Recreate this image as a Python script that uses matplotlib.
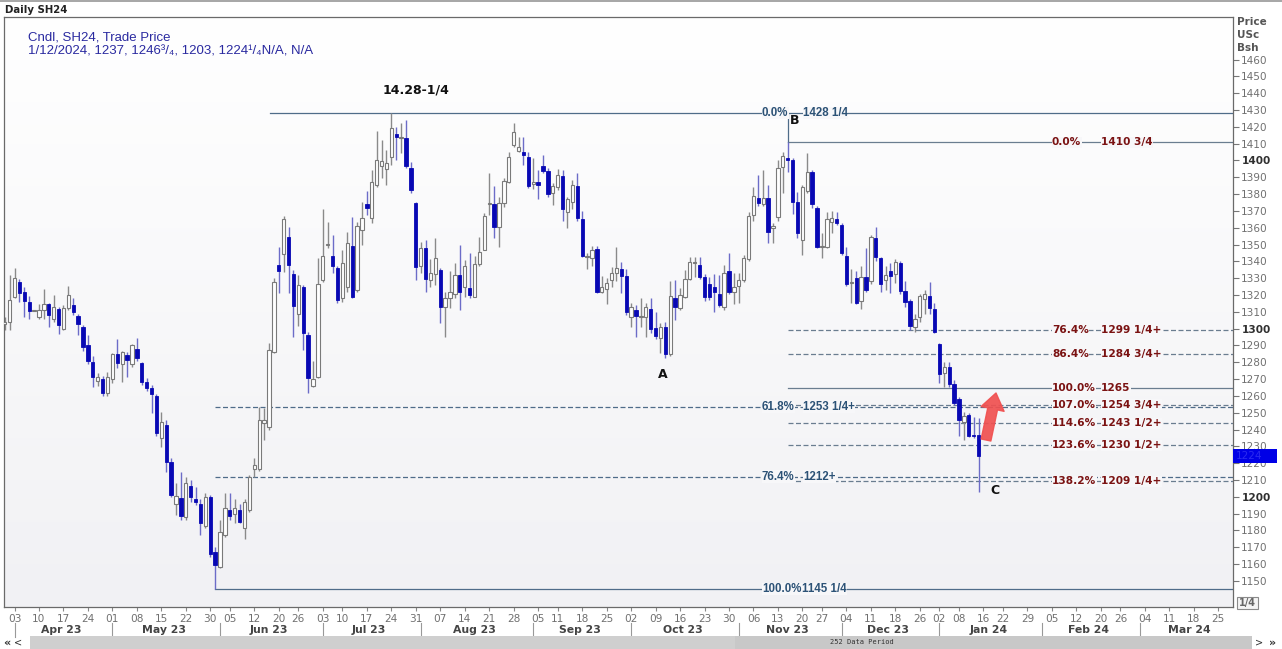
import numpy as np
import pandas as pd
import matplotlib
matplotlib.use("Agg")
import matplotlib.pyplot as plt
from matplotlib.patches import Rectangle
import matplotlib.transforms as mtrans

# ---------------- data ----------------
holidays = ['2023-05-29', '2023-06-19', '2023-07-04', '2023-09-04', '2023-11-23',
            '2023-12-25', '2024-01-01', '2024-01-15', '2024-02-19']

opens = [1303, 1304, 1319, 1328, 1322, 1316, 1310.5, 1307, 1311, 1314.5, 1306, 1311.7, 1300, 1312.5, 1314,
         1307.7, 1301, 1290, 1280, 1269, 1270, 1261.5, 1270, 1284.7, 1279, 1284.3, 1279, 1288, 1279.4, 1268,
         1265, 1260, 1235, 1242.7, 1221, 1195.8, 1199.5, 1188, 1206.5, 1198.7, 1196, 1182.7, 1200, 1167.4, 1158,
         1177.3, 1192, 1189.8, 1192, 1181.3, 1192, 1216.4, 1216.4, 1243.7, 1241.3, 1286.3, 1337.9, 1344.4, 1354.7,
         1332.5, 1309, 1325, 1296.2, 1266, 1271, 1329, 1350, 1343, 1336, 1318, 1324.6, 1349.4, 1323, 1358.7,
         1374.2, 1365.6, 1385.5, 1397, 1394.8, 1402.3, 1416, 1413.6, 1413.6, 1395.4, 1375, 1337, 1347.8, 1329,
         1332.5, 1335, 1313, 1318, 1320.7, 1332, 1325, 1324, 1319, 1338.5, 1347, 1374, 1374, 1360.7, 1375,
         1387.4, 1409.2, 1405.8, 1405.2, 1402.3, 1386, 1387.4, 1396.7, 1393.9, 1380.9, 1384, 1390.8, 1369.6,
         1375.5, 1384.8, 1365, 1342.8, 1341.8, 1347.2, 1322, 1323.4, 1329, 1333, 1335.3, 1331.3, 1307, 1311,
         1307, 1306.7, 1311.5, 1300.2, 1294.2, 1300.8, 1285, 1318, 1312, 1318.6, 1329.3, 1338.8, 1337.8, 1331,
         1326.5, 1325, 1320.6, 1313, 1334, 1322, 1325.4, 1329, 1341.2, 1367.6, 1377.5, 1374.1, 1377.5, 1360,
         1366.6, 1396, 1401.3, 1400, 1375.5, 1353, 1382, 1393.3, 1372, 1348.7, 1348.7, 1363.6, 1365, 1361.6,
         1343.2, 1327, 1330, 1316.6, 1331, 1328.5, 1353.7, 1341.8, 1329, 1334.5, 1332.5, 1339.2, 1322.6, 1316.6,
         1300.8, 1306.7, 1317.4, 1319.4, 1311.5, 1290.9, 1273.4, 1277.4, 1267, 1258, 1244.7, 1248.7, 1236.5, 1237]
highs = [1307, 1332, 1336, 1329.5, 1325, 1319.5, 1310.5, 1314.5, 1323.5, 1315, 1320, 1313, 1314, 1325.5, 1318.5,
         1309, 1302, 1296, 1283.5, 1273.5, 1272, 1274.5, 1285.3, 1294, 1287, 1286.3, 1290.7, 1294.6, 1280.4,
         1270.5, 1266.5, 1261, 1250.7, 1245.7, 1223, 1208, 1215, 1212, 1210, 1206, 1199, 1202.5, 1201, 1170.4,
         1186, 1202, 1202, 1199, 1196, 1199, 1213, 1223, 1253.6, 1252.6, 1291.3, 1330, 1348.8, 1367, 1360.6, 1335,
         1332, 1326, 1298.2, 1281, 1341.8, 1371, 1363.6, 1355.7, 1337, 1346.8, 1357.7, 1366.6, 1363.7, 1375.6,
         1382, 1394.4, 1417.8, 1412, 1406, 1428.25, 1420, 1422.5, 1424, 1399.3, 1375.6, 1351.8, 1352.8, 1341.3,
         1353.8, 1336, 1322, 1334.5, 1338.9, 1349.8, 1341, 1344.8, 1343, 1354.7, 1369, 1392.8, 1385, 1378.5,
         1389.4, 1405.2, 1422, 1414, 1414, 1405.2, 1401.3, 1394.3, 1403.2, 1395.3, 1386.4, 1394.7, 1394.3, 1378,
         1388.4, 1392.3, 1370, 1345.2, 1349, 1349, 1331.3, 1330, 1336.5, 1348.3, 1339.8, 1335.3, 1315, 1314,
         1318, 1315, 1318, 1310, 1303.2, 1304.2, 1328.5, 1329, 1324, 1335, 1342.8, 1342.4, 1342.8, 1332.5, 1331,
         1332.5, 1332, 1337.8, 1344.8, 1333.3, 1333, 1343.8, 1369.5, 1384.4, 1391.4, 1394.3, 1385.4, 1363, 1400,
         1405.2, 1410.75, 1401.3, 1381.4, 1385.4, 1404.2, 1394.3, 1373, 1356.7, 1369.5, 1370, 1369.5, 1362.6,
         1348.7, 1335.3, 1334, 1337, 1347.8, 1355.7, 1360.2, 1342.4, 1337, 1339, 1341.2, 1340.4, 1328.5, 1317.4,
         1308.7, 1320.6, 1323, 1327.9, 1315, 1291.3, 1280.4, 1280, 1269.5, 1259.6, 1250.6, 1249.7, 1247.7, 1246.75]
lows = [1299, 1299, 1318, 1316, 1307, 1306, 1310.5, 1305.7, 1306, 1301, 1304, 1297, 1299, 1311, 1308, 1296,
        1287, 1279, 1265.5, 1266, 1260, 1260, 1267.5, 1276.4, 1268.5, 1271.5, 1277.4, 1280.8, 1266.5, 1263,
        1249.7, 1236, 1229.8, 1215, 1200, 1189, 1186, 1186, 1197, 1195, 1177.3, 1181.3, 1164.4, 1145.25, 1157.5,
        1176, 1186.3, 1184.7, 1184.3, 1174.8, 1191, 1212, 1215.6, 1233.8, 1239.8, 1285.3, 1321, 1333.9, 1321,
        1295.2, 1301.6, 1287.3, 1262, 1265.5, 1270.5, 1328, 1347.8, 1333, 1315, 1316, 1322, 1318, 1322, 1349.8,
        1367.6, 1363, 1384, 1389.4, 1385.5, 1397.4, 1400.3, 1404.3, 1395.4, 1380.5, 1329, 1333, 1322, 1325,
        1326, 1303.2, 1295.3, 1312, 1318, 1311, 1319, 1318, 1318.7, 1337, 1346.8, 1367.6, 1353.8, 1348.8,
        1372.5, 1386.4, 1408.2, 1405.2, 1397.3, 1383.4, 1382.8, 1377, 1392.3, 1378, 1373.5, 1382.4, 1364.2,
        1359.6, 1371, 1364.2, 1342.8, 1335.3, 1337, 1321.4, 1321.4, 1314.7, 1325, 1328.5, 1321.4, 1308, 1301.2,
        1295.2, 1301.2, 1295.2, 1297.6, 1293.7, 1285.3, 1282.4, 1283.7, 1305.2, 1311, 1318, 1328.9, 1331,
        1329.3, 1316.6, 1317, 1310, 1313, 1311, 1320.6, 1314.7, 1315, 1328, 1340.4, 1364.2, 1373, 1373, 1350.7,
        1350.7, 1364.2, 1380.5, 1393.3, 1368.2, 1353.7, 1343.8, 1380.5, 1372, 1347.7, 1341.8, 1347.7, 1356.7,
        1361.6, 1343.8, 1325.4, 1315, 1314.7, 1311.5, 1322, 1326.5, 1340.4, 1322, 1323, 1321.4, 1327.3, 1320.6,
        1312.7, 1299.2, 1298.2, 1304.2, 1309, 1308.7, 1297.2, 1267.5, 1265.5, 1265.5, 1254.6, 1236.2, 1233.8,
        1235.4, 1234.8, 1203]
closes = [1304, 1317, 1330, 1321, 1316.5, 1310.5, 1310.5, 1311, 1314.5, 1308, 1313, 1302.2, 1312.5, 1320, 1310,
          1302.6, 1289, 1281, 1271, 1271, 1261.5, 1271, 1284.7, 1279.4, 1286, 1281.4, 1290, 1282.4, 1268, 1265,
          1261, 1238, 1244.7, 1221, 1201, 1200.5, 1188.6, 1208, 1200, 1197, 1184.7, 1200, 1166, 1159.5, 1179.3,
          1193.2, 1188.6, 1193.2, 1185.3, 1197, 1212, 1219, 1245.7, 1245.7, 1287.3, 1328, 1334, 1365.2, 1337.9,
          1313.5, 1326, 1297.2, 1270.5, 1270, 1326.6, 1343.2, 1350.5, 1337, 1317, 1339, 1350.8, 1319, 1361,
          1365.6, 1371.6, 1387.4, 1400.3, 1399.7, 1398.7, 1419.2, 1414, 1413.8, 1396.8, 1382.5, 1336.5, 1347.8,
          1329.4, 1333.3, 1342, 1312.7, 1318, 1321.5, 1332, 1321.5, 1337, 1320, 1338.5, 1345.8, 1367, 1374.5,
          1360.3, 1374.6, 1388, 1402.3, 1417.1, 1407.8, 1403.2, 1384.8, 1387.4, 1385.4, 1393.9, 1380.1, 1384.8,
          1391.4, 1371, 1376.9, 1385.4, 1365.6, 1343.2, 1343, 1346.8, 1322, 1324.6, 1327.3, 1333, 1336, 1331.3,
          1310.1, 1313, 1307.5, 1307.3, 1312.7, 1299.6, 1295.6, 1301.2, 1285, 1319.4, 1312.7, 1320, 1329.3,
          1339.8, 1339.8, 1331, 1318.6, 1318.6, 1322, 1314, 1333.3, 1322, 1325, 1329, 1341.8, 1367, 1379, 1374.5,
          1377.5, 1357.7, 1361, 1395.3, 1402.6, 1400, 1375.5, 1356.7, 1384, 1393.3, 1374, 1348.7, 1349, 1365,
          1365.6, 1362.6, 1345.2, 1326.5, 1328, 1315.4, 1330.5, 1323, 1354.3, 1342.4, 1326.5, 1332, 1331.3,
          1339.8, 1322.6, 1316, 1301.6, 1306, 1319.4, 1320.6, 1312, 1298.2, 1273, 1277.4, 1267, 1256, 1245.7,
          1248, 1236.2, 1236, 1224.25]

# Fibonacci retracement (Jun low to Jul high) and extension (A-B)
left_fib_pct = ['0.0%', '61.8%', '76.4%', '100.0%']
left_fib_val = [1428.25, 1253.36, 1212.04, 1145.25]
left_fib_txt = ['1428 1/4', '1253 1/4+', '1212+', '1145 1/4']
right_fib_pct = ['0.0%', '76.4%', '86.4%', '100.0%', '107.0%', '114.6%', '123.6%', '138.2%']
right_fib_val = [1410.75, 1299.4, 1284.8, 1265.0, 1254.8, 1243.7, 1230.6, 1209.3]
right_fib_txt = ['1410 3/4', '1299 1/4+', '1284 3/4+', '1265', '1254 3/4+', '1243 1/2+', '1230 1/2+',
                 '1209 1/4+']

# ---------------- calendar ----------------
days = pd.bdate_range('2023-03-30', '2024-03-29')
days = days[~days.isin(pd.to_datetime(holidays))]
pos_all = np.arange(len(days)) - 2          # Apr 3 2023 -> 0
n = len(opens)
pos = pos_all[:n]
o = np.array(opens, float); h = np.array(highs, float)
l = np.array(lows, float); c = np.array(closes, float)

# ---------------- figure ----------------
W, H = 1282, 649
fig = plt.figure(figsize=(W / 100, H / 100), dpi=100)
fig.patch.set_facecolor('white')
ax = fig.add_axes([4 / W, 1 - 607 / H, (1233 - 4) / W, (607 - 17) / H])

XMIN, XMAX = -2.15, 249.0
YMIN, YMAX = 1134.5, 1485.3
ax.set_xlim(XMIN, XMAX)
ax.set_ylim(YMIN, YMAX)

def px2x(px):
    return XMIN + (px - 4) / (1233 - 4) * (XMAX - XMIN)

def px2y(py):
    return YMAX - (py - 17) / (607 - 17) * (YMAX - YMIN)

# background gradient
grad = np.linspace(1, 0, 256).reshape(-1, 1)
ax.imshow(grad, extent=[0, 1, 0, 1], transform=ax.transAxes, cmap=matplotlib.colors.LinearSegmentedColormap.from_list(
    'bg', ['#f1f1f4', '#ffffff']), aspect='auto', zorder=0, vmin=0, vmax=1)
ax.set_xlim(XMIN, XMAX)
ax.set_ylim(YMIN, YMAX)

# fib lines (behind candles)
lc_left = '#4f6c89'
lc_right = '#6a7d90'
left_start = {0: 52.2, 1: 41, 2: 41, 3: 41}
for k, (v, p) in enumerate(zip(left_fib_val, left_fib_pct)):
    ls = '-' if p in ('0.0%', '100.0%') else (0, (4, 2))
    ax.plot([left_start[k], XMAX], [v, v], color=lc_left, lw=0.9, ls=ls, zorder=1)
for v, p in zip(right_fib_val, right_fib_pct):
    ls = '-' if p in ('0.0%', '100.0%') else (0, (4, 2))
    ax.plot([158, XMAX], [v, v], color=lc_right, lw=0.9, ls=ls, zorder=1)
ax.plot([158, 158], [right_fib_val[0], left_fib_val[0]], color=lc_left, lw=0.9, zorder=1)

# candles
up = c >= o
wick_up, wick_dn = '#8a8a8a', '#6c6cc8'
ax.vlines(pos[up], l[up], h[up], color=wick_up, lw=1.0, zorder=2)
ax.vlines(pos[~up], l[~up], h[~up], color=wick_dn, lw=1.0, zorder=2)
body_lo = np.minimum(o, c)
body_h = np.maximum(np.abs(c - o), 0.6)
bw = 0.68
ax.bar(pos[up], body_h[up], bottom=body_lo[up], width=bw, facecolor='white', edgecolor='#7a7a7a',
       linewidth=0.8, zorder=3)
ax.bar(pos[~up], body_h[~up], bottom=body_lo[~up], width=bw, facecolor='#0808b4', edgecolor='#0808b4',
       linewidth=0.6, zorder=3)

# fib labels
lab_font = dict(family='Liberation Sans', fontsize=8.3, fontweight='bold', va='center', zorder=4)
bgc = '#f7f7f9'
for p, v, t in zip(left_fib_pct, left_fib_val, left_fib_txt):
    ax.text(px2x(762), v, p, color='#2c5276', ha='left',
            bbox=dict(fc=bgc, ec='none', pad=0.2), **lab_font)
    xv = px2x(802) if p == '100.0%' else px2x(803)
    ax.text(xv, v, t, color='#2c5276', ha='left', bbox=dict(fc=bgc, ec='none', pad=0.2), **lab_font)
rfont = dict(family='DejaVu Sans', fontsize=7.6, fontweight='bold', va='center', zorder=4)
for p, v, t in zip(right_fib_pct, right_fib_val, right_fib_txt):
    ax.text(px2x(1052), v, p, color='#7a1212', ha='left', bbox=dict(fc=bgc, ec='none', pad=0.2), **rfont)
    ax.text(px2x(1101), v, t, color='#7a1212', ha='left', bbox=dict(fc=bgc, ec='none', pad=0.2), **rfont)

# point labels
pf = dict(family='DejaVu Sans', fontsize=9, fontweight='bold', color='#111111', ha='center', va='center',
          zorder=5)
ax.text(px2x(416), px2y(90), '14.28-1/4', **pf)
ax.text(px2x(663), px2y(374), 'A', **pf)
ax.text(px2x(795), px2y(121), 'B', **pf)
ax.text(px2x(995), px2y(491), 'C', **pf)

# red arrow
ax.annotate('', xy=(px2x(996), px2y(393)), xytext=(px2x(986), px2y(440)),
            arrowprops=dict(arrowstyle='simple,head_length=0.9,head_width=1.3,tail_width=0.55',
                            color='#f05050', alpha=0.92, mutation_scale=13, shrinkA=0, shrinkB=0), zorder=6)

# header legend
ax.text(px2x(28), px2y(38), 'Cndl, SH24, Trade Price', color='#2a2aa0', fontsize=9.5,
        family='Liberation Sans', va='center', ha='left', zorder=5)
ax.text(px2x(28), px2y(52), '1/12/2024, 1237, 1246\u00b3/\u2084, 1203, 1224\u00b9/\u2084N/A, N/A', color='#2a2aa0',
        fontsize=9.5, family='Liberation Sans', va='center', ha='left', zorder=5)

# ---------------- axes styling ----------------
for s in ax.spines.values():
    s.set_color('#6a6a6a')
    s.set_linewidth(0.9)

# y axis right
ax.yaxis.tick_right()
yt = np.arange(1150, 1461, 10)
ax.set_yticks(yt)
ax.set_yticklabels([str(v) for v in yt])
ax.tick_params(axis='y', direction='out', length=4, width=0.8, color='#777777', pad=2,
               labelsize=7.6, labelcolor='#707070')
for lab, v in zip(ax.get_yticklabels(), yt):
    lab.set_family('DejaVu Sans')
    if v % 100 == 0:
        lab.set_fontweight('bold')
        lab.set_color('#303030')

# x axis weekly ticks
ser = pd.Series(pos_all, index=days)
wk = ser.groupby(days.to_period('W')).first()
wk_dates = ser.index.to_series().groupby(days.to_period('W')).first()
mask = wk.values >= 0
ax.set_xticks(wk.values[mask])
ax.set_xticklabels([pd.Timestamp(d).strftime('%d') for d in wk_dates.values[mask]])
ax.tick_params(axis='x', direction='out', length=3, width=0.8, color='#888888', pad=2,
               labelsize=7.6, labelcolor='#707070')
for lab in ax.get_xticklabels():
    lab.set_family('DejaVu Sans')

# months
trans = mtrans.blended_transform_factory(ax.transData, ax.transAxes)
mper = days.to_period('M')
for m in mper.unique():
    sel = pos_all[mper == m]
    if sel[0] < 0:
        continue
    ax.text((sel[0] + sel[-1]) / 2, -23 / 590, m.strftime('%b %y'), transform=trans, ha='center',
            va='center', fontsize=7.8, fontweight='bold', color='#444444', family='DejaVu Sans', clip_on=False)
    ax.plot([sel[0], sel[0]], [-16 / 590, -30 / 590], transform=trans, color='#999999', lw=0.8,
            clip_on=False)

# right axis title
for k, t in enumerate(['Price', 'USc', 'Bsh']):
    fig.text(1237 / W, 1 - (22 + 13 * k) / H, t, fontsize=7.5, fontweight='bold', color='#555555',
             family='DejaVu Sans', ha='left', va='center')

# current price marker
rt = mtrans.blended_transform_factory(ax.transAxes, ax.transData)
ax.add_patch(Rectangle((1.0, 1224.25 - 3.9), (1277 - 1233) / (1233 - 4), 7.8, transform=rt,
                       facecolor='#0000e6', edgecolor='none', clip_on=False, zorder=6))
ax.text(1.0 + 3 / 1229, 1224.25, '1224', transform=rt, fontsize=7.6, color='#2a2af0', va='center',
        ha='left', clip_on=False, zorder=7, family='DejaVu Sans')

# 1/4 box
fig.patches.append(Rectangle((1237 / W, 1 - 609 / H), 21 / W, 12 / H, transform=fig.transFigure,
                             facecolor='#f4f4f4', edgecolor='#8a8a8a', lw=0.8))
fig.text(1247.5 / W, 1 - 603 / H, '1/4', fontsize=7, color='#666666', ha='center', va='center',
         fontweight='bold', family='DejaVu Sans')

# top bar and title
fig.patches.append(Rectangle((0, 1 - 2 / H), 1, 2 / H, transform=fig.transFigure, facecolor='#a8a8a8',
                             edgecolor='none'))
fig.text(5 / W, 1 - 10 / H, 'Daily SH24', fontsize=7.3, fontweight='bold', color='#222222',
         family='DejaVu Sans', ha='left', va='center')

# scrollbar
fig.patches.append(Rectangle((30 / W, 0), (1252 - 30) / W, 13 / H, transform=fig.transFigure,
                             facecolor='#c8c8c8', edgecolor='none'))
fig.patches.append(Rectangle((30 / W, 0), (735 - 30) / W, 13 / H, transform=fig.transFigure,
                             facecolor='#cfcfcf', edgecolor='none'))
fig.text(7 / W, 6.5 / H, '\u00ab', fontsize=8, color='#333333', ha='center', va='center', fontweight='bold')
fig.text(18 / W, 6.5 / H, '<', fontsize=7, color='#333333', ha='center', va='center')
fig.text(1259 / W, 6.5 / H, '>', fontsize=7, color='#333333', ha='center', va='center')
fig.text(1273 / W, 6.5 / H, '\u00bb', fontsize=8, color='#333333', ha='center', va='center', fontweight='bold')
fig.text(862 / W, 6.5 / H, '252 Data Period', fontsize=5, color='#333333', ha='center', va='center',
         family='DejaVu Sans Mono')

fig.savefig('out.png', dpi=100)
